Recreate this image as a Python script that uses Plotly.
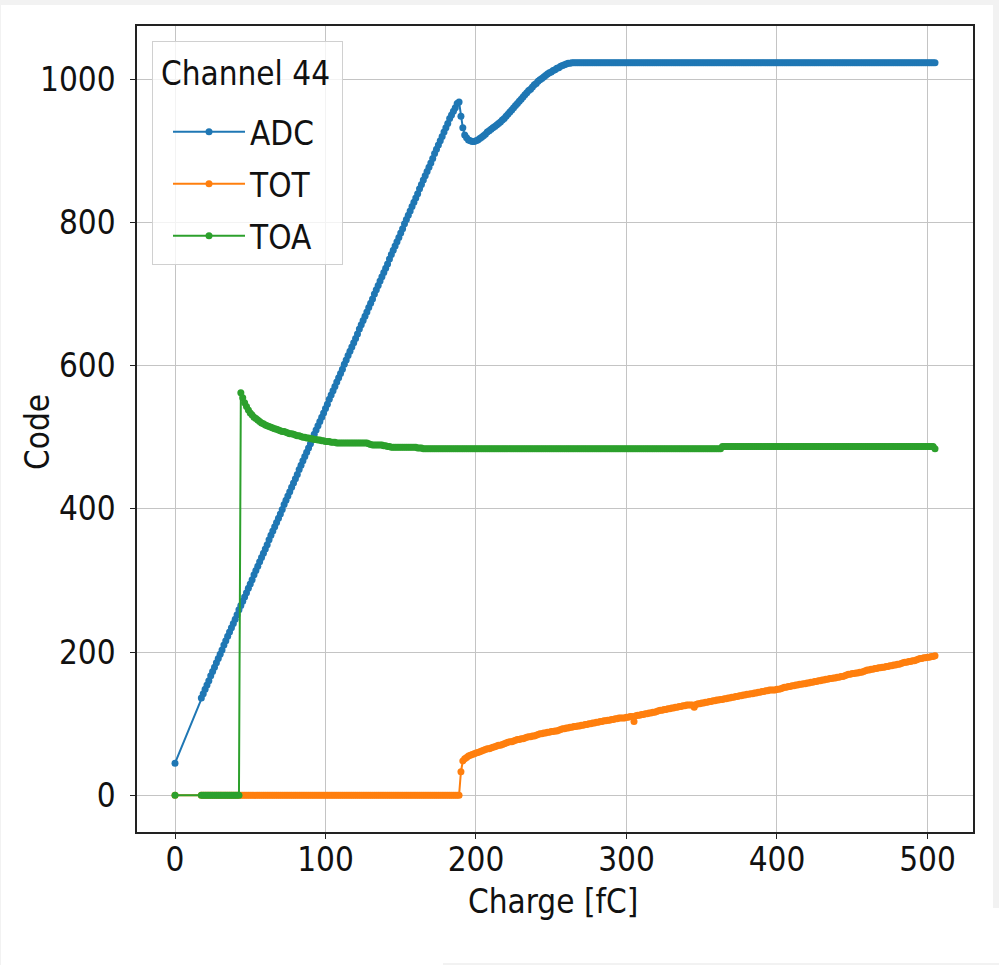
import plotly.graph_objects as go

# Injected charge [fC]: one point at zero, then a regular scan from 17.5 to 505 fC
CHARGE = [0.0] + [17.5 + 1.25 * i for i in range(391)]

# ADC response: linear ramp (17.5 .. 187.5 fC)
ADC_RAMP = [
    136, 142, 148, 154, 160, 167, 173, 179, 185, 191,   # 17.5
    197, 203, 210, 216, 222, 228, 234, 240, 246, 252,   # 30
    259, 265, 271, 277, 283, 289, 295, 301, 308, 314,   # 42.5
    320, 326, 332, 338, 344, 350, 357, 363, 369, 375,   # 55
    381, 387, 393, 399, 406, 412, 418, 424, 430, 436,   # 67.5
    442, 448, 455, 461, 467, 473, 479, 485, 491, 497,   # 80
    504, 510, 516, 522, 528, 534, 540, 546, 553, 559,   # 92.5
    565, 571, 577, 583, 589, 595, 602, 608, 614, 620,   # 105
    626, 632, 638, 644, 651, 657, 663, 669, 675, 681,   # 117.5
    687, 693, 700, 706, 712, 718, 724, 730, 736, 742,   # 130
    749, 755, 761, 767, 773, 779, 785, 791, 798, 804,   # 142.5
    810, 816, 822, 828, 834, 840, 847, 853, 859, 865,   # 155
    871, 877, 883, 889, 896, 902, 908, 914, 920, 926,   # 167.5
    932, 938, 945, 950, 955, 960, 966,                  # 180
]
# Dip at the TOT switch-over and approach to saturation (188.75 .. 262.5 fC)
ADC_KNEE = [
    968, 948, 932, 922, 918, 915, 914, 913, 913, 914,   # 188.75
    915, 917, 919, 921, 923, 926, 928, 930, 932, 934,   # 201.25
    936, 938, 940, 943, 945, 948, 951, 954, 957, 960,   # 213.75
    963, 966, 969, 972, 975, 978, 981, 984, 986, 989,   # 226.25
    992, 994, 997, 999, 1001, 1003, 1005, 1007, 1009, 1010,  # 238.75
    1012, 1013, 1015, 1016, 1018, 1019, 1020, 1021, 1022, 1022,  # 251.25
]
ADC_SAT = 1023
ADC = [45] + ADC_RAMP + ADC_KNEE + [ADC_SAT] * 194

# TOT: zero up to 188.75 fC, then rising (190 .. 505 fC)
TOT_RISE = [
    33, 48, 51, 53, 55, 56, 57, 58, 59, 60,             # 190
    61, 62, 63, 64, 65, 65, 66, 67, 68, 69,             # 202.5
    70, 70, 71, 72, 73, 74, 75, 75, 76, 77,             # 215
    78, 78, 79, 79, 80, 81, 82, 82, 83, 83,             # 227.5
    84, 85, 86, 86, 87, 87, 88, 88, 89, 89,             # 240
    90, 90, 91, 92, 93, 93, 94, 94, 95, 95,             # 252.5
    96, 96, 97, 97, 98, 98, 99, 99, 100, 100,           # 265
    101, 101, 102, 102, 103, 103, 104, 104, 105, 105,   # 277.5
    106, 106, 107, 107, 108, 108, 108, 108, 109, 109,   # 290
    110, 110, 103, 111, 112, 112, 113, 113, 114, 114,   # 302.5
    115, 115, 116, 116, 117, 118, 119, 119, 120, 120,   # 315
    121, 121, 122, 122, 123, 123, 124, 124, 125, 125,   # 327.5
    126, 126, 126, 126, 123, 127, 128, 128, 129, 129,   # 340
    130, 130, 131, 131, 132, 132, 133, 133, 134, 134,   # 352.5
    135, 135, 136, 136, 137, 137, 138, 138, 139, 139,   # 365
    140, 140, 141, 141, 142, 142, 143, 143, 144, 144,   # 377.5
    145, 145, 146, 146, 147, 147, 147, 147, 148, 148,   # 390
    149, 150, 151, 151, 152, 152, 153, 153, 154, 154,   # 402.5
    155, 155, 156, 156, 157, 157, 158, 158, 159, 159,   # 415
    160, 160, 161, 161, 162, 162, 163, 163, 164, 164,   # 427.5
    165, 165, 166, 166, 167, 168, 169, 169, 170, 170,   # 440
    171, 171, 172, 172, 173, 174, 175, 175, 176, 176,   # 452.5
    177, 177, 178, 178, 179, 179, 180, 180, 181, 181,   # 465
    182, 182, 183, 183, 184, 185, 186, 186, 187, 187,   # 477.5
    188, 188, 189, 190, 191, 191, 192, 192, 193, 193,   # 490
    194, 194, 195,                                      # 502.5
]
TOT = [0] + [0] * 138 + TOT_RISE

# TOA: zero up to 42.5 fC, jump at 43.75 fC, settling to a plateau
TOA_SETTLE = [
    562, 555, 548, 543, 538, 534, 531, 528, 526, 524,   # 43.75
    522, 520, 519, 517, 516, 515, 514, 513, 512, 511,   # 56.25
    510, 509, 508, 508, 507, 506, 505, 505, 504, 503,   # 68.75
    502, 502, 501, 500, 500, 499, 499, 498, 498, 497,   # 81.25
    497, 496, 496, 495, 495, 494, 494, 494, 493, 493,   # 93.75
    493, 492, 492, 492, 492, 492, 492, 492, 492, 492,   # 106.25
    492, 492, 492, 492, 492, 492, 492, 492, 491, 490,   # 118.75
    489, 489, 489, 489, 489, 489, 488, 488, 487, 487,   # 131.25
]
TOA = ([0] + [0] * 21 + TOA_SETTLE + [486] * 14 + [485] * 3
       + [484] * 159 + [487] * 113 + [484])

assert len(ADC) == len(TOT) == len(TOA) == len(CHARGE)

SERIES = [("ADC", ADC, "#1f77b4"), ("TOT", TOT, "#ff7f0e"), ("TOA", TOA, "#2ca02c")]

FONT = "DejaVu Sans Condensed, DejaVu Sans, sans-serif"
FS = 33
INK = "#111111"
W, H = 999, 965
ML, MR, MT, MB = 137, 26, 26, 133
PW, PH = W - ML - MR, H - MT - MB


def px_x(px):
    return (px - ML) / PW


def px_y(py):
    return (H - MB - py) / PH


fig = go.Figure()
for k, (name, vals, color) in enumerate(SERIES):
    extra = {}
    if k == 0:
        # thin spacer row between the legend title and the first entry
        extra["legendgrouptitle"] = dict(text="\u00a0", font=dict(size=7))
    fig.add_trace(go.Scatter(
        x=CHARGE, y=vals, name=name, legendgroup=name,
        mode="lines+markers",
        line=dict(color=color, width=2),
        marker=dict(color=color, size=7),
        **extra,
    ))


def px_rect(x0, y0, x1, y1, color):
    """Rectangle given in page pixels, placed in paper coordinates."""
    return dict(
        type="rect", xref="paper", yref="paper", layer="below",
        x0=px_x(x0), x1=px_x(x1), y0=px_y(y1), y1=px_y(y0),
        fillcolor=color, line=dict(width=0),
    )


edge = "#f2f2f2"
shapes = [
    px_rect(0, 0, W, 5, edge),
    px_rect(0, 0, 1, H, edge),
    px_rect(993, 0, W, 908, edge),
    px_rect(443, 963, W, H, edge),
]

axis_common = dict(
    showline=True, mirror=True, linecolor="#222222", linewidth=1.5,
    showgrid=True, gridcolor="#c4c4c4", gridwidth=1.3,
    zeroline=False,
    ticks="outside", ticklen=5, tickwidth=1.3, tickcolor="#222222",
    tickfont=dict(family=FONT, size=FS, color=INK),
)

annotations = [
    dict(text="Charge [fC]", xref="paper", yref="paper",
         x=px_x(552.5), y=px_y(901), xanchor="center", yanchor="middle",
         showarrow=False, font=dict(family=FONT, size=FS, color=INK)),
    dict(text="Code", xref="paper", yref="paper", textangle=-90,
         x=px_x(37), y=px_y(432), xanchor="center", yanchor="middle",
         showarrow=False, font=dict(family=FONT, size=FS, color=INK)),
]

fig.update_layout(
    width=W, height=H,
    margin=dict(l=ML, r=MR, t=MT, b=MB),
    paper_bgcolor="white", plot_bgcolor="white",
    shapes=shapes, annotations=annotations,
    font=dict(family=FONT, size=FS, color=INK),
    xaxis=dict(
        range=[-25.25, 530.25], tickvals=[0, 100, 200, 300, 400, 500],
        ticklabelstandoff=-7,
        **axis_common,
    ),
    yaxis=dict(
        range=[-51.15, 1074.15], tickvals=[0, 200, 400, 600, 800, 1000],
        ticklabelstandoff=8,
        **axis_common,
    ),
    legend=dict(
        title=dict(text="\u2009Channel 44\u00a0", font=dict(family=FONT, size=FS, color=INK)),
        font=dict(family=FONT, size=FS, color=INK),
        x=px_x(152), y=px_y(41),
        xanchor="left", yanchor="top",
        bgcolor="rgba(255,255,255,0.8)",
        bordercolor="#d0d0d0", borderwidth=1,
        tracegroupgap=6, indentation=15, itemwidth=72,
    ),
    showlegend=True,
)

fig.write_html("out.html")
